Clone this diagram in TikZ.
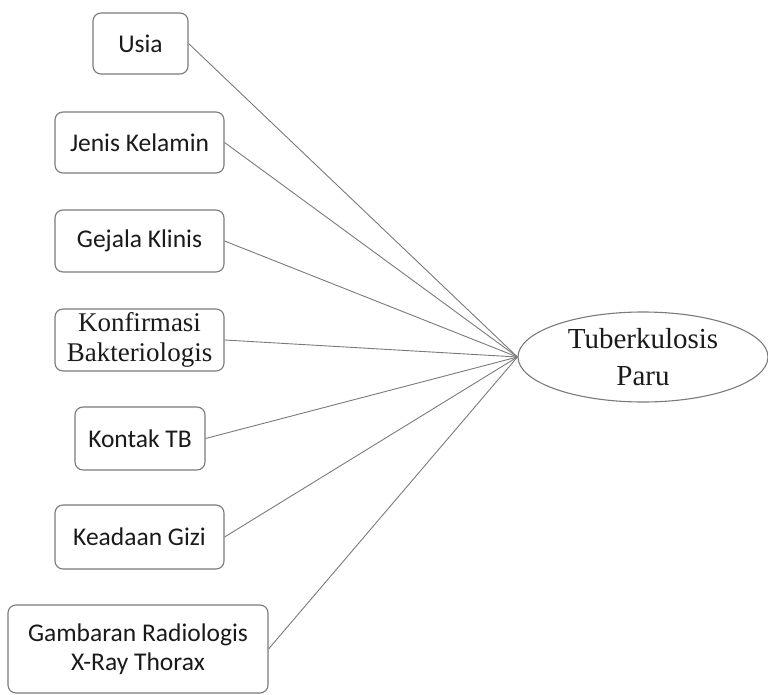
\documentclass[tikz,border=0pt]{standalone}
\usepackage{fontspec}
\setmainfont{Carlito}
\newfontfamily\seriffont{Liberation Serif}
\usetikzlibrary{shapes.geometric}
\definecolor{edge}{HTML}{7A7A7A}
\definecolor{txt}{HTML}{1A1A1A}
\tikzset{
  factor/.style={draw=edge, line width=1.1pt, rounded corners=8pt, fill=white,
    text=txt, align=center, inner sep=0pt, font=\fontsize{25.5}{29}\selectfont},
  target/.style={ellipse, draw=edge, line width=1.1pt, text=txt, align=center,
    inner sep=0pt, minimum width=250pt, minimum height=90pt,
    font=\seriffont\fontsize{29}{37}\selectfont},
  link/.style={draw=edge, line width=0.9pt}
}
\begin{document}
\begin{tikzpicture}[x=1pt,y=-1pt]
\useasboundingbox (0,0) rectangle (768,695);
\node[factor, minimum width=95pt, minimum height=61pt] (usia) at (140.5,43.5) {Usia};
\node[factor, minimum width=169pt, minimum height=61pt] (jenis) at (139.5,142.5) {Jenis Kelamin};
\node[factor, minimum width=169pt, minimum height=62pt] (gejala) at (139.5,241) {Gejala Klinis};
\node[factor, minimum width=169pt, minimum height=62pt, font=\seriffont\fontsize{27}{30}\selectfont] (konf) at (139.5,340) {Konfirmasi\\Bakteriologis};
\node[factor, minimum width=130pt, minimum height=63pt] (kontak) at (140,438.5) {Kontak TB};
\node[factor, minimum width=169pt, minimum height=64pt] (gizi) at (139.5,537) {Keadaan Gizi};
\node[factor, minimum width=260pt, minimum height=88pt] (gamb) at (138,649) {Gambaran Radiologis\\X-Ray Thorax};
\node[target] (tb) at (643,357) {Tuberkulosis\\Paru};
\coordinate (hub) at (tb.west);
\foreach \n in {usia,jenis,gejala,konf,kontak,gizi,gamb}
  \draw[link] (\n.east) -- (hub);
\end{tikzpicture}
\end{document}
